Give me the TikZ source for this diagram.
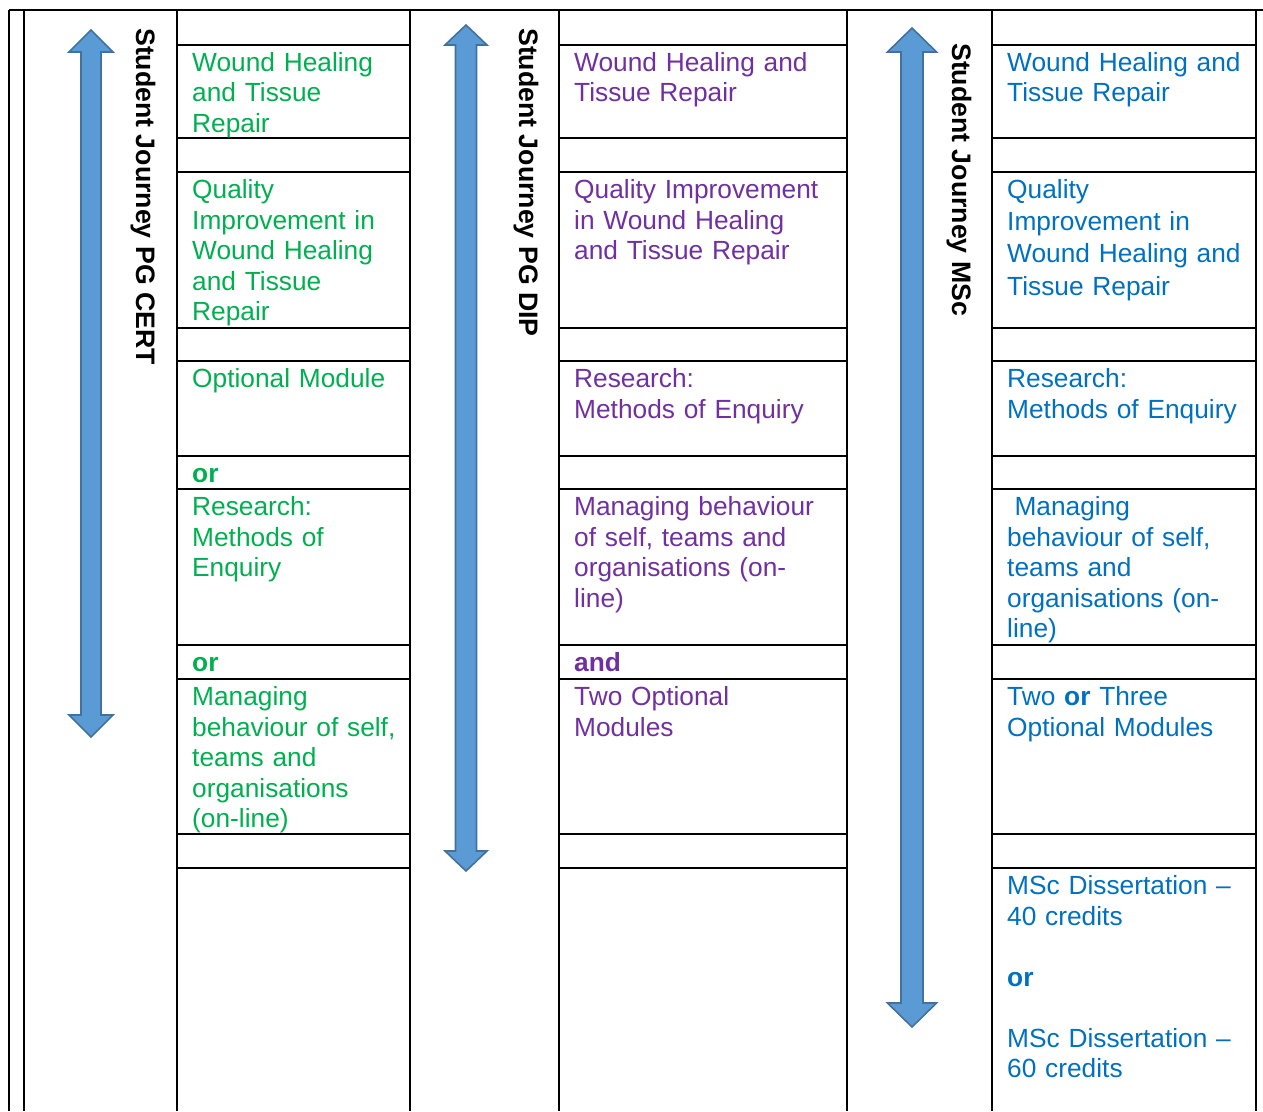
\documentclass[tikz,border=0pt]{standalone}
\usepackage{fontspec}
\setmainfont{Liberation Sans}
\usepackage{tikz}

\definecolor{certgreen}{HTML}{00B050}
\definecolor{dippurple}{HTML}{7030A0}
\definecolor{mscblue}{HTML}{0070C0}
\definecolor{arrowfill}{HTML}{5B9BD5}
\definecolor{arrowedge}{HTML}{41719C}

\tikzstyle{rule}=[line width=2.8pt, black]
\tikzstyle{journey arrow}=[fill=arrowfill, draw=arrowedge, line width=1.6pt, line join=miter]
\tikzstyle{journey label}=[rotate=-90, anchor=base west, inner sep=0pt, font=\bfseries\fontsize{26.7}{30.5}\selectfont]
\tikzstyle{cell}=[anchor=base west, inner sep=0pt, text width=260pt, align=left, font=\fontsize{26.3}{30.5}\selectfont]
\tikzstyle{cert}=[cell, text=certgreen]
\tikzstyle{dip}=[cell, text=dippurple]
\tikzstyle{msc}=[cell, text=mscblue]

% 両向きの矢印: 中心x, 上端, 下端, 軸の半幅, 頭の半幅, 頭の長さ
\newcommand{\journeyarrow}[6]{%
  \draw[journey arrow] (#1,#2) -- (#1+#5,#2+#6) -- (#1+#4,#2+#6) -- (#1+#4,#3-#6)
    -- (#1+#5,#3-#6) -- (#1,#3) -- (#1-#5,#3-#6) -- (#1-#4,#3-#6)
    -- (#1-#4,#2+#6) -- (#1-#5,#2+#6) -- cycle;}

\begin{document}
\begin{tikzpicture}[x=1pt, y=-1pt]
    \useasboundingbox (0,0) rectangle (1263,1111);

    % 表の枠
    \draw[rule] (9,10) -- (1263,10);
    \draw[line width=2.2pt] (9,10) -- (9,1111);
    \foreach \x in {24,177,410,559,847,992,1256}
      \draw[rule] (\x,10) -- (\x,1111);

    % 科目欄の横線
    \foreach \l/\r in {177/410, 559/847, 992/1256}
      \foreach \y in {45,138,172,328,361,456,489,645,679,834,868}
        \draw[rule] (\l,\y) -- (\r,\y);

    % 矢印
    \journeyarrow{91}{30}{737}{10}{22}{22}
    \journeyarrow{466}{25}{871}{10.5}{21}{20}
    \journeyarrow{912}{28}{1027}{11}{24.5}{24}

    % 縦書きの見出し
    \node[journey label] (certlabel) at (136,28) {Student Journey PG CERT};
    \node[journey label] (diplabel) at (519,28) {Student Journey PG DIP};
    \node[journey label] (msclabel) at (952,43) {Student Journey MSc};

    % PG CERT
    \node[cert] (certA) at (192,71) {Wound Healing\\and Tissue\\Repair};
    \node[cert] (certB) at (192,198.5) {Quality\\Improvement in\\Wound Healing\\and Tissue\\Repair};
    \node[cert] (certC) at (192,387.5) {Optional Module};
    \node[cert] (certor1) at (192,482.5) {\textbf{or}};
    \node[cert] (certD) at (192,515.5) {Research:\\Methods of\\Enquiry};
    \node[cert] (certor2) at (192,671.5) {\textbf{or}};
    \node[cert] (certE) at (192,705.5) {Managing\\behaviour of self,\\teams and\\organisations\\(on-line)};

    % PG DIP
    \node[dip] (dipA) at (574,71) {Wound Healing and\\Tissue Repair};
    \node[dip] (dipB) at (574,198.5) {Quality Improvement\\in Wound Healing\\and Tissue Repair};
    \node[dip] (dipC) at (574,387.5) {Research:\\Methods of Enquiry};
    \node[dip] (dipD) at (574,515.5) {Managing behaviour\\of self, teams and\\organisations (on-\\line)};
    \node[dip] (dipand) at (574,671.5) {\textbf{and}};
    \node[dip] (dipE) at (574,705.5) {Two Optional\\Modules};

    % MSc
    \node[msc] (mscA) at (1007,71) {Wound Healing and\\Tissue Repair};
    \node[msc, font=\fontsize{26.3}{32.2}\selectfont] (mscB) at (1007,198.5) {Quality\\Improvement in\\Wound Healing and\\Tissue Repair};
    \node[msc] (mscC) at (1007,387.5) {Research:\\Methods of Enquiry};
    \node[msc] (mscD) at (1007,515.5) {\hspace*{.278em}Managing\\behaviour of self,\\teams and\\organisations (on-\\line)};
    \node[msc] (mscE) at (1007,705.5) {Two \textbf{or} Three\\Optional Modules};
    \node[msc] (mscF) at (1007,894.5) {MSc Dissertation –\\40 credits\\[30.5pt]\textbf{or}\\[30.5pt]MSc Dissertation –\\60 credits};
\end{tikzpicture}
\end{document}
